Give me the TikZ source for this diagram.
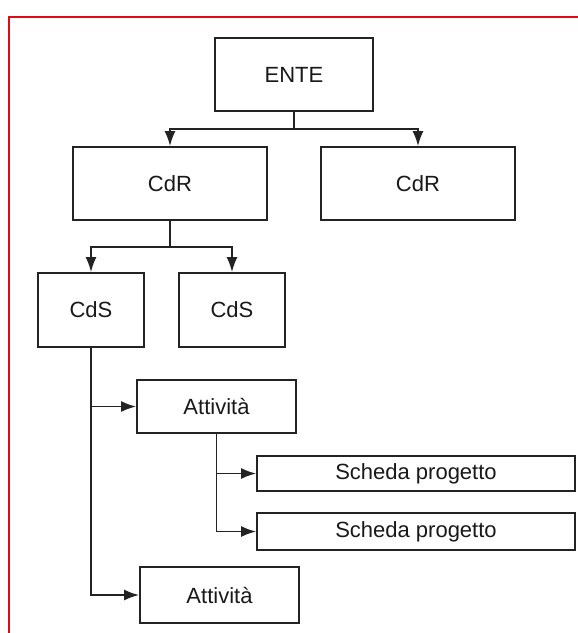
\documentclass[tikz,border=0pt]{standalone}
\usepackage{fontspec}
\setmainfont{Liberation Sans}
\usetikzlibrary{arrows.meta}
\definecolor{frame}{RGB}{225,10,20}
\definecolor{ink}{RGB}{35,35,35}
\begin{document}
\begin{tikzpicture}[x=1pt,y=-1pt,
  box/.style={draw=ink,line width=1.8pt,fill=white,inner sep=0pt,
    font=\fontsize{22}{26}\selectfont,text=black!90},
  conn/.style={draw=ink,line width=1.7pt},
  arr/.style={conn,-{Latex[length=15pt,width=11pt]}}]
\useasboundingbox (0,0) rectangle (578,633);
\fill[white] (0,0) rectangle (578,633);
\draw[frame,line width=2.4pt] (9,633) -- (9,17) -- (578,17);

\node[box,minimum width=158pt,minimum height=73pt] (ente) at (294,74.5) {ENTE};
\node[box,minimum width=194pt,minimum height=73pt] (cdrL) at (170,183.5) {CdR};
\node[box,minimum width=194pt,minimum height=73pt] (cdrR) at (418,183.5) {CdR};
\node[box,minimum width=106pt,minimum height=74pt] (cdsL) at (91,310) {CdS};
\node[box,minimum width=106pt,minimum height=74pt] (cdsR) at (232,310) {CdS};
\node[box,minimum width=159pt,minimum height=53pt] (att1) at (216.5,406.5) {Attività};
\node[box,minimum width=318pt,minimum height=35pt] (sch1) at (416,473.5) {Scheda progetto};
\node[box,minimum width=318pt,minimum height=37pt] (sch2) at (416,531.5) {Scheda progetto};
\node[box,minimum width=159pt,minimum height=56pt] (att2) at (219.5,595) {Attività};

\coordinate (j1) at (294,129);
\coordinate (j2) at (170,247);
\draw[conn] (ente.south) -- (j1);
\draw[arr] (j1) -| (cdrL.north);
\draw[arr] (j1) -| (cdrR.north);
\draw[conn] (cdrL.south) -- (j2);
\draw[arr] (j2) -| (cdsL.north);
\draw[arr] (j2) -| (cdsR.north);
\draw[arr] (cdsL.south) |- (att1.west);
\draw[arr] (cdsL.south) |- (att2.west);
\draw[arr] (att1.south) |- (sch1.west);
\draw[arr] (att1.south) |- (sch2.west);
\end{tikzpicture}
\end{document}
